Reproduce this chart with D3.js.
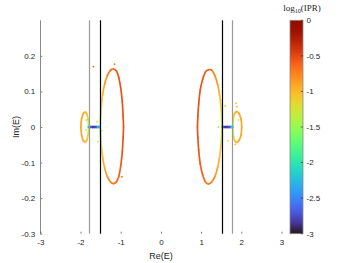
<!DOCTYPE html>
<html><head><meta charset="utf-8">
<script src="https://cdn.jsdelivr.net/npm/d3@7"></script>
<style>
body{margin:0;background:#fff}
svg{display:block}
text{font-family:"Liberation Sans",Arial,Helvetica,sans-serif;fill:#262626}
</style>
</head><body>
<svg id="c" width="350" height="263"></svg>
<script>
// ---- data (Re(E), Im(E), log10(IPR)) ----
const xTicks = [-3, -2, -1, 0, 1, 2, 3];
const yTicks = [-0.3, -0.2, -0.1, 0, 0.1, 0.2];
const cbTicks = [-3, -2.5, -2, -1.5, -1, -0.5, 0];
const grayLines = [-1.78, 1.78];
const blackLines = [-1.52, 1.52];

const leftBigLoop = [
  [-1.51,0,-1.35],[-1.50,0.03,-1.25],[-1.48,0.06,-1.12],[-1.45,0.09,-1.0],[-1.40,0.12,-0.88],
  [-1.33,0.145,-0.78],[-1.25,0.16,-0.68],[-1.18,0.163,-0.62],[-1.11,0.158,-0.58],[-1.05,0.14,-0.56],
  [-1.00,0.11,-0.55],[-0.96,0.07,-0.55],[-0.94,0.03,-0.55],[-0.93,0,-0.55],[-0.94,-0.03,-0.55],
  [-0.96,-0.07,-0.56],[-1.00,-0.11,-0.58],[-1.05,-0.14,-0.62],[-1.11,-0.155,-0.66],[-1.18,-0.159,-0.7],
  [-1.25,-0.155,-0.75],[-1.33,-0.14,-0.82],[-1.40,-0.115,-0.9],[-1.45,-0.085,-1.0],[-1.48,-0.055,-1.12],
  [-1.50,-0.025,-1.25]
];
const rightBigLoop = [
  [1.52,0,-1.35],[1.51,0.03,-1.25],[1.49,0.06,-1.12],[1.46,0.09,-1.0],[1.41,0.12,-0.88],
  [1.34,0.145,-0.78],[1.26,0.16,-0.68],[1.18,0.161,-0.62],[1.11,0.155,-0.58],[1.04,0.135,-0.56],
  [0.98,0.105,-0.55],[0.94,0.065,-0.55],[0.92,0.03,-0.55],[0.91,0,-0.55],[0.92,-0.03,-0.55],
  [0.94,-0.065,-0.56],[0.98,-0.105,-0.58],[1.04,-0.135,-0.62],[1.11,-0.155,-0.66],[1.18,-0.16,-0.7],
  [1.26,-0.155,-0.75],[1.34,-0.14,-0.82],[1.41,-0.115,-0.9],[1.46,-0.085,-1.0],[1.49,-0.055,-1.12],
  [1.51,-0.025,-1.25]
];
const leftSmallLoop = [
  [-1.80,0,-1.5],[-1.81,0.02,-1.2],[-1.84,0.036,-1.0],[-1.88,0.042,-0.95],[-1.93,0.038,-0.92],
  [-1.97,0.024,-0.9],[-1.99,0,-0.9],[-1.97,-0.024,-0.9],[-1.93,-0.038,-0.92],[-1.88,-0.042,-0.95],
  [-1.84,-0.036,-1.0],[-1.81,-0.02,-1.2]
];
const rightSmallLoop = [
  [1.79,0,-1.5],[1.80,0.022,-1.2],[1.83,0.037,-1.0],[1.88,0.043,-0.95],[1.94,0.038,-0.92],
  [1.99,0.024,-0.9],[2.01,0,-0.9],[1.99,-0.024,-0.9],[1.94,-0.038,-0.92],[1.88,-0.043,-0.95],
  [1.83,-0.037,-1.0],[1.80,-0.022,-1.2]
];
const leftRealBranch = [
  [-1.80,0,-1.6],[-1.78,0,-2.2],[-1.75,0,-2.6],[-1.70,0,-2.8],[-1.65,0,-2.85],
  [-1.60,0,-2.8],[-1.56,0,-2.5],[-1.53,0,-2.0]
];
const rightRealBranch = [
  [1.53,0,-2.0],[1.56,0,-2.5],[1.60,0,-2.8],[1.65,0,-2.85],[1.70,0,-2.8],
  [1.75,0,-2.6],[1.78,0,-2.2],[1.79,0,-1.6]
];
const strayPoints = [
  [-1.68,0.170,-0.6],[-1.155,0.177,-0.6],[-0.97,-0.14,-0.6],
  [-1.59,0.015,-1.4],[-1.86,0.02,-1.4],[-1.86,-0.008,-1.3],[-1.47,-0.01,-1.3],[-1.57,-0.041,-1.2],
  [1.60,0.059,-1.1],[1.52,0.076,-1.1],[1.87,0.067,-1.1],[1.89,0.057,-1.1],[1.93,0.02,-1.2],
  [1.67,-0.039,-1.1],[1.85,-0.049,-1.0],[1.43,0,-1.5]
];

// ---- scales ----
const svg = d3.select("#c");
const x = d3.scaleLinear().domain([-3, 3]).range([40.3, 281.5]);
const y = d3.scaleLinear().domain([-0.3, 0.3]).range([233.7, 20.3]);
const color = d3.scaleSequential(d3.interpolateTurbo).domain([-3, 0]);
const crisp = v => Math.round(v) + 0.5;

// ---- curves ----
const gCurves = svg.append("g");
function drawCurve(pts, closed, width) {
  const n = pts.length;
  const P = pts.map(p => [x(p[0]), y(p[1])]);
  const segs = closed ? n : n - 1;
  for (let i = 0; i < segs; i++) {
    const i0 = closed ? (i - 1 + n) % n : Math.max(i - 1, 0);
    const i1 = i, i2 = (i + 1) % n;
    const i3 = closed ? (i + 2) % n : Math.min(i + 2, n - 1);
    const p0 = P[i0], p1 = P[i1], p2 = P[i2], p3 = P[i3];
    const c1 = [p1[0] + (p2[0] - p0[0]) / 6, p1[1] + (p2[1] - p0[1]) / 6];
    const c2 = [p2[0] - (p3[0] - p1[0]) / 6, p2[1] - (p3[1] - p1[1]) / 6];
    gCurves.append("path")
      .attr("d", `M${p1[0]},${p1[1]}C${c1[0]},${c1[1]} ${c2[0]},${c2[1]} ${p2[0]},${p2[1]}`)
      .attr("fill", "none")
      .attr("stroke", color((pts[i1][2] + pts[i2][2]) / 2))
      .attr("stroke-width", width)
      .attr("stroke-linecap", "round");
  }
}
drawCurve(leftBigLoop, true, 1.7);
drawCurve(rightBigLoop, true, 1.7);
drawCurve(leftSmallLoop, true, 1.7);
drawCurve(rightSmallLoop, true, 1.7);
drawCurve(leftRealBranch, false, 2.4);
drawCurve(rightRealBranch, false, 2.4);

svg.append("g").selectAll("circle").data(strayPoints).join("circle")
  .attr("cx", d => x(d[0])).attr("cy", d => y(d[1])).attr("r", 0.9)
  .attr("fill", d => color(d[2]));

// ---- vertical lines ----
svg.append("g").selectAll("line").data(grayLines).join("line")
  .attr("x1", d => crisp(x(d))).attr("x2", d => crisp(x(d)))
  .attr("y1", y(0.3)).attr("y2", y(-0.3))
  .attr("stroke", "#9a9a9a").attr("stroke-width", 1.2);
svg.append("g").selectAll("line").data(blackLines).join("line")
  .attr("x1", d => crisp(x(d))).attr("x2", d => crisp(x(d)))
  .attr("y1", y(0.3)).attr("y2", y(-0.3))
  .attr("stroke", "#000").attr("stroke-width", 1.2);

// ---- axes ----
const fmt = d => String(d);
const ya = svg.append("g").attr("transform", `translate(${x(-3)},0)`)
  .call(d3.axisLeft(y).tickValues(yTicks).tickFormat(fmt).tickSize(-2).tickPadding(5));
ya.select(".domain").remove();
ya.selectAll(".tick line").attr("stroke", "#262626").attr("stroke-width", 0.6);
ya.selectAll("text").attr("font-size", 8).attr("fill", "#333");
svg.append("line").attr("x1", crisp(x(-3))).attr("x2", crisp(x(-3))).attr("y1", y(0.3)).attr("y2", y(-0.3))
  .attr("stroke", "#8a8a8a").attr("stroke-width", 1);

const xa = svg.append("g").attr("transform", `translate(0,${y(-0.3)})`)
  .call(d3.axisBottom(x).tickValues(xTicks).tickFormat(fmt).tickSize(-2).tickPadding(5.5));
xa.select(".domain").remove();
xa.selectAll(".tick line").attr("stroke", "#262626").attr("stroke-width", 0.6);
xa.selectAll("text").attr("font-size", 8).attr("fill", "#333");

svg.append("text").attr("x", x(0)).attr("y", 259).attr("text-anchor", "middle")
  .attr("font-size", 9).attr("fill", "#333").text("Re(E)");
svg.append("text").attr("transform", `translate(19,${y(0)}) rotate(-90)`).attr("text-anchor", "middle")
  .attr("font-size", 9).attr("fill", "#333").text("Im(E)");

// ---- colorbar ----
const cb = d3.scaleLinear().domain([-3, 0]).range([233.7, 20.3]);
const grad = svg.append("defs").append("linearGradient").attr("id", "cbg")
  .attr("x1", 0).attr("y1", 1).attr("x2", 0).attr("y2", 0);
d3.range(0, 1.0001, 0.05).forEach(t => grad.append("stop")
  .attr("offset", t).attr("stop-color", d3.interpolateTurbo(t)));
const cbx = 290, cbw = 13;
svg.append("rect").attr("x", cbx).attr("y", cb(0)).attr("width", cbw).attr("height", cb(-3) - cb(0))
  .attr("fill", "url(#cbg)").attr("stroke", "#8a8a8a").attr("stroke-width", 0.8);
const cbg = svg.append("g");
cbg.selectAll("line").data(cbTicks).join("line")
  .attr("x1", cbx + cbw).attr("x2", cbx + cbw - 2.2)
  .attr("y1", d => cb(d)).attr("y2", d => cb(d))
  .attr("stroke", "#262626").attr("stroke-width", 0.6);
cbg.selectAll("text").data(cbTicks).join("text")
  .attr("x", cbx + cbw + 3.5).attr("y", d => cb(d)).attr("dy", "0.35em")
  .attr("font-size", 8).attr("fill", "#333").text(fmt);

const title = svg.append("text").attr("x", 302).attr("y", 11).attr("text-anchor", "middle")
  .attr("font-size", 9).attr("fill", "#333")
  .style("font-family", "'Liberation Serif','Times New Roman',serif");
title.append("tspan").text("log");
title.append("tspan").attr("font-size", 6).attr("dy", 2).text("10");
title.append("tspan").attr("dy", -2).text("(IPR)");
</script>
</body></html>
